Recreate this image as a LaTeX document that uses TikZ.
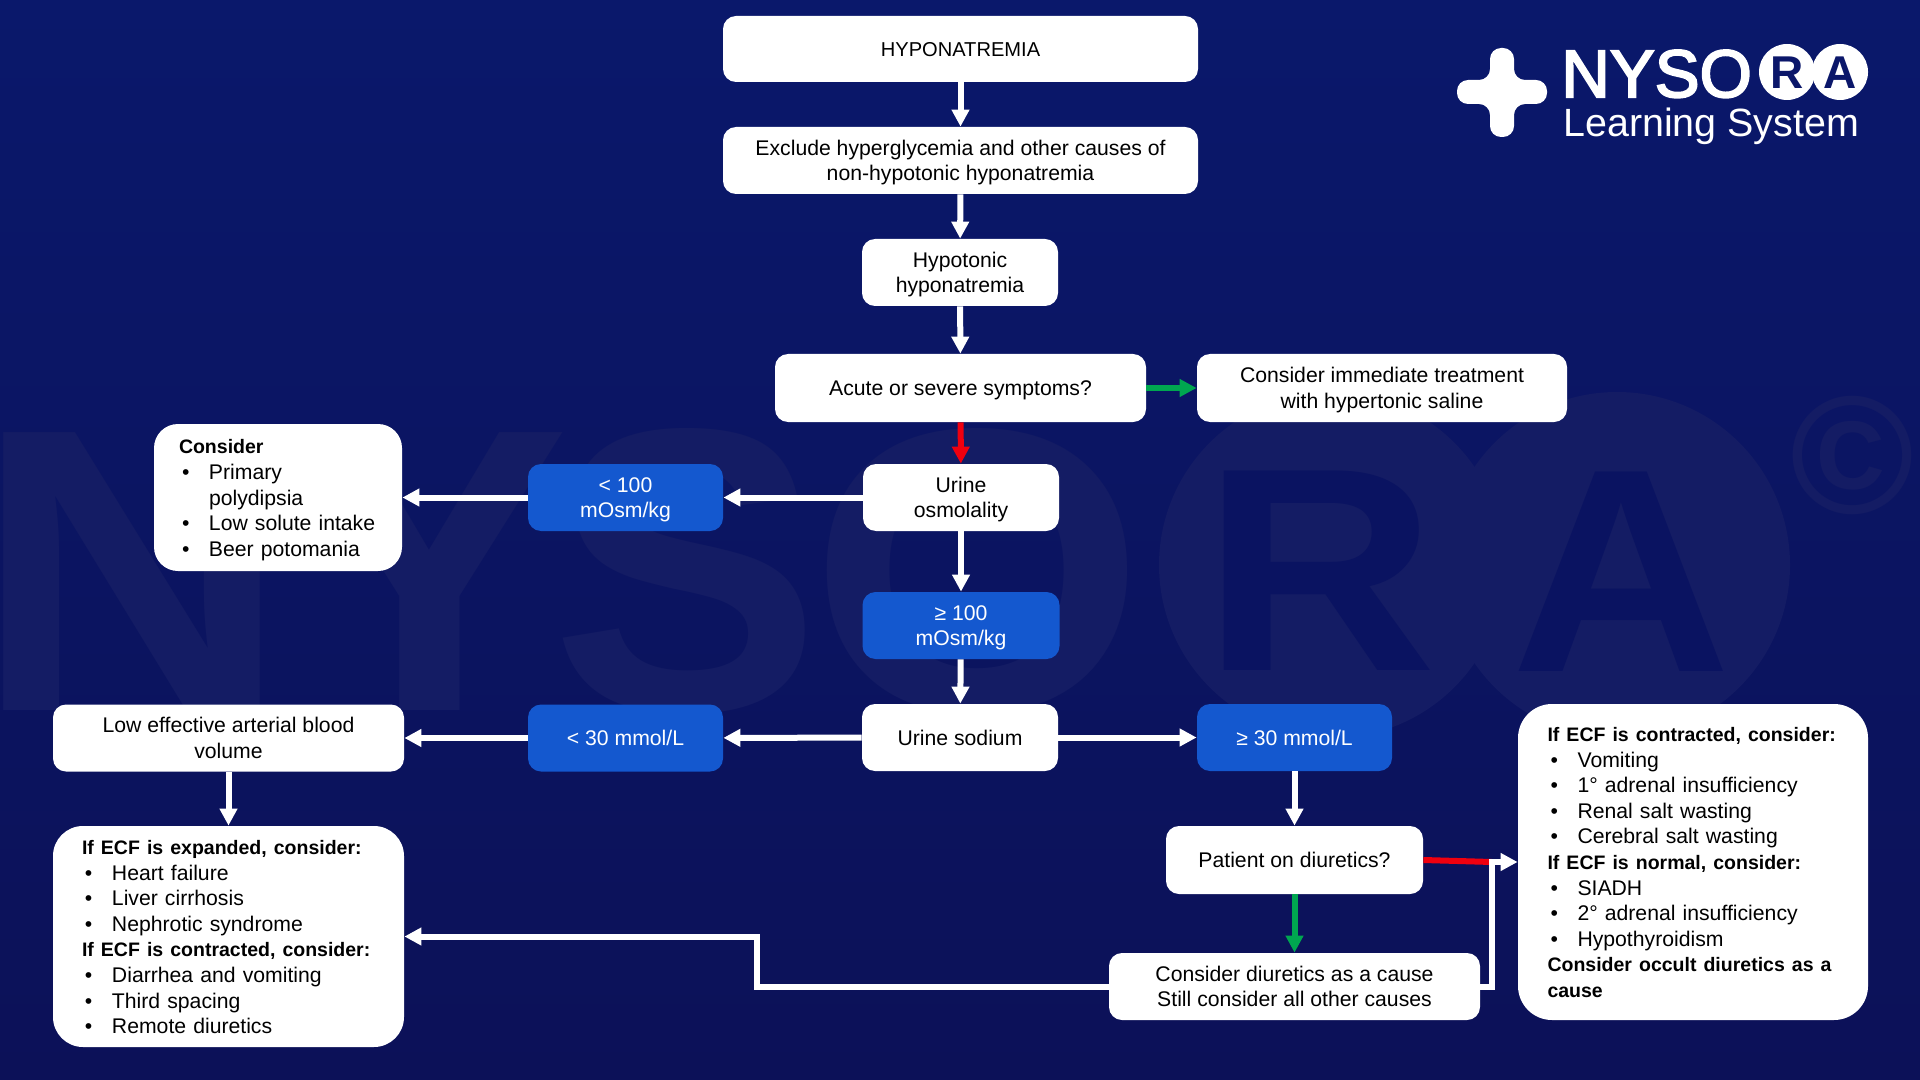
\documentclass[tikz,border=0pt]{standalone}
\usepackage{fontspec}
\setmainfont{Liberation Sans}
\newfontfamily\logofont[FakeBold=3]{Liberation Sans}
\usetikzlibrary{arrows.meta}
\definecolor{bgtop}{HTML}{0A186B}
\definecolor{bgbot}{HTML}{0C1158}
\definecolor{markcol}{HTML}{141C64}
\definecolor{markdark}{HTML}{0A1361}
\definecolor{boxblue}{HTML}{1458CF}
\definecolor{navyR}{HTML}{0B176A}
\definecolor{okgreen}{HTML}{00A650}
\definecolor{nored}{HTML}{F0000F}
\newcommand{\itm}{\makebox[15pt][l]{\hspace{1.5pt}\textbullet}}
\newcommand{\hd}[1]{{\fontsize{9.75}{12.8}\selectfont\bfseries #1}}
\tikzset{
	box/.style={fill=white, text=black, rounded corners=6.5pt, inner sep=0pt, align=center, font=\fontsize{10.6}{12.8}\selectfont,
		execute at begin node={\rule{0pt}{10pt}}, execute at end node={\rule[-2.5pt]{0pt}{2.5pt}}},
	twoline/.style={execute at begin node={}, execute at end node={}, text height=22.8pt, text depth=2.5pt},
	bluebox/.style={box, fill=boxblue, text=white},
	listbox/.style={box, align=left},
	wire/.style={-{Triangle[length=8.5pt,width=8.5pt]}, line width=3pt, white},
	greenwire/.style={wire, okgreen},
	redwire/.style={wire, nored},
	markbig/.style={text=markcol, inner sep=0pt, anchor=base, font=\fontsize{202}{202}\selectfont\bfseries},
	markletter/.style={text=markdark, inner sep=0pt, anchor=base, font=\fontsize{145}{145}\selectfont\bfseries}
}

\begin{document}
\begin{tikzpicture}[x=0.5pt, y=-0.5pt]
	%%%%% START %%%%%
	\useasboundingbox (0, 0) rectangle (1920, 1080);
	\shade[top color=bgtop, bottom color=bgbot] (0, 0) rectangle (1920, 1080);

	% watermark
	\node[markbig] (markn) at (132, 710) {\scalebox{1.08}[1]{N}};
	\node[markbig] (marky) at (430, 710) {\scalebox{1.04}[1]{Y}};
	\node[markbig] (marks) at (686, 710) {S};
	\node[markbig] (marko) at (978, 710) {\scalebox{1.07}[1]{O}};
	\fill[markcol] (1332, 565) circle (173);
	\fill[markcol] (1617, 565) circle (173);
	\node[markletter] (markr) at (1320, 670) {\scalebox{1.12}[1]{R}};
	\node[markletter] (marka) at (1621, 671) {\scalebox{1.05}[1]{A}};
	\node[text=markcol, inner sep=0pt, anchor=base, font=\fontsize{84}{84}\selectfont\bfseries] (markc) at (1852, 513) {©};

	\node[box, font=\fontsize{10.05}{12.8}\selectfont, minimum width=237.5pt, minimum height=33pt] (title) at (960.5, 49) {HYPONATREMIA};
	\node[box, twoline, minimum width=237.5pt, minimum height=33.5pt] (exclude) at (960.5, 160.5) {Exclude hyperglycemia and other causes of\\non-hypotonic hyponatremia};
	\node[box, twoline, minimum width=98pt, minimum height=33.5pt] (hypo) at (960, 272.5) {Hypotonic\\hyponatremia};
	\node[box, minimum width=185.5pt, minimum height=34pt] (acute) at (960.5, 388) {Acute or severe symptoms?};
	\node[box, twoline, minimum width=185pt, minimum height=34pt] (saline) at (1382, 388) {Consider immediate treatment\\with hypertonic saline};

	\node[box, twoline, minimum width=98pt, minimum height=33.5pt] (urineosm) at (961, 497.5) {Urine\\osmolality};
	\node[bluebox, twoline, minimum width=97.5pt, minimum height=33.5pt] (lowosm) at (625.5, 497.5) {< 100\\mOsm/kg};
	\node[listbox, rounded corners=12pt, minimum width=124pt, minimum height=73.5pt, text width=99pt] (polybox) at (278, 497.5) {\hd{Consider}\\\itm Primary\\\hspace*{15pt}polydipsia\\\itm Low solute intake\\\itm Beer potomania};
	\node[bluebox, twoline, minimum width=98.5pt, minimum height=33.5pt] (highosm) at (961, 625.5) {≥ 100\\mOsm/kg};

	\node[box, minimum width=98pt, minimum height=33.5pt] (urinena) at (960, 737.5) {Urine sodium};
	\node[bluebox, minimum width=97.5pt, minimum height=33.5pt] (lowna) at (625.5, 738) {< 30 mmol/L};
	\node[box, twoline, minimum width=175.5pt, minimum height=33.5pt] (lowvol) at (228.5, 738) {Low effective arterial blood\\volume};
	\node[bluebox, minimum width=97.5pt, minimum height=33.5pt] (highna) at (1294.5, 737.5) {≥ 30 mmol/L};

	\node[box, minimum width=128.5pt, minimum height=34pt] (diuq) at (1294.5, 860) {Patient on diuretics?};
	\node[box, twoline, minimum width=185.5pt, minimum height=33.5pt] (diuyes) at (1294.5, 986.5) {Consider diuretics as a cause\\Still consider all other causes};

	\node[listbox, rounded corners=15pt, minimum width=175.5pt, minimum height=110.5pt, text width=146.5pt] (leftbox) at (228.5, 936.5) {\hd{If ECF is expanded, consider:}\\\itm Heart failure\\\itm Liver cirrhosis\\\itm Nephrotic syndrome\\\hd{If ECF is contracted, consider:}\\\itm Diarrhea and vomiting\\\itm Third spacing\\\itm Remote diuretics};
	\node[listbox, rounded corners=17pt, minimum width=175pt, minimum height=158pt, text width=145.5pt] (rightbox) at (1693, 862) {\hd{If ECF is contracted, consider:}\\\itm Vomiting\\\itm 1° adrenal insufficiency\\\itm Renal salt wasting\\\itm Cerebral salt wasting\\\hd{If ECF is normal, consider:}\\\itm SIADH\\\itm 2° adrenal insufficiency\\\itm Hypothyroidism\\\hd{Consider occult diuretics as a}\\\hd{cause}};

	\draw[wire] (title) -- (exclude);
	\draw[wire] (exclude) -- (hypo);
	\draw[wire] (hypo) -- (acute);
	\draw[greenwire] (acute) -- (saline);
	\draw[redwire] (acute) -- (urineosm);
	\draw[wire] (urineosm) -- (lowosm);
	\draw[wire] (lowosm) -- (polybox);
	\draw[wire] (urineosm) -- (highosm);
	\draw[wire] (highosm) -- (urinena);
	\draw[wire] (urinena) -- (lowna);
	\draw[wire] (lowna) -- (lowvol);
	\draw[wire] (urinena) -- (highna);
	\draw[wire] (lowvol) -- (leftbox);
	\draw[wire] (highna) -- (diuq);
	\draw[greenwire] (diuq) -- (diuyes);

	\coordinate (bendleft) at (757, 986.5);
	\coordinate (bendright) at (1492, 986.5);
	\draw[line width=3pt, nored] (diuq.east) -- (bendright |- rightbox.west);
	\draw[wire] (diuyes.west) -- (bendleft) |- (leftbox.east);
	\draw[wire] (diuyes.east) -- (bendright) |- (rightbox.west);

	% logo
	\fill[white, rounded corners=5.5pt] (1490, 48) -- (1514, 48) -- (1514, 80) -- (1547, 80) -- (1547, 104) -- (1514, 104) -- (1514, 137) -- (1490, 137) -- (1490, 104) -- (1457, 104) -- (1457, 80) -- (1490, 80) -- cycle;
	\node[text=white, inner sep=0pt, anchor=base west, font=\fontsize{33.6}{33.6}\logofont] (logoword) at (1561, 97) {NYSO};
	\fill[white] (1787, 72) circle (28);
	\fill[white] (1840, 72) circle (28);
	\node[text=navyR, inner sep=0pt, anchor=base, font=\fontsize{23}{23}\selectfont\bfseries] (logor) at (1787, 89) {R};
	\node[text=navyR, inner sep=0pt, anchor=base, font=\fontsize{23}{23}\selectfont\bfseries] (logoa) at (1840, 89) {A};
	\node[text=white, inner sep=0pt, anchor=base west, font=\fontsize{19.7}{19.7}\selectfont] (logosub) at (1563, 136.5) {Learning System};
	%%%%% END %%%%%
\end{tikzpicture}
\end{document}
